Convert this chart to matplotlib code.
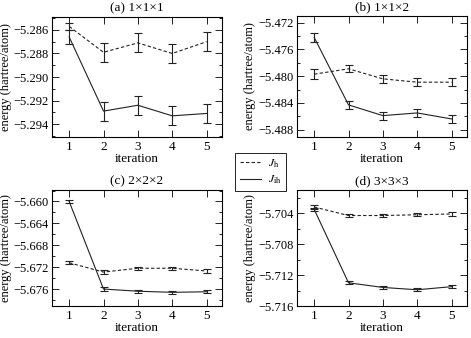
import matplotlib
matplotlib.use("Agg")
import matplotlib.pyplot as plt
from matplotlib.lines import Line2D
from matplotlib.ticker import MultipleLocator, FuncFormatter

plt.rcParams['font.family'] = ['Liberation Serif', 'DejaVu Serif']
plt.rcParams['mathtext.fontset'] = 'stix'
plt.rcParams['font.size'] = 9.5

# --- data
iteration = [1, 2, 3, 4, 5]
titles = ['(a) 1\u00d71\u00d71', '(b) 1\u00d71\u00d72', '(c) 2\u00d72\u00d72', '(d) 3\u00d73\u00d73']

jh_a = [-5.2857, -5.2879, -5.2871, -5.2880, -5.2870]
jh_a_err = [0.0003, 0.0008, 0.0008, 0.0008, 0.0008]
jih_a = [-5.2866, -5.2929, -5.2924, -5.2933, -5.2931]
jih_a_err = [0.0006, 0.0008, 0.0008, 0.0008, 0.0008]

jh_b = [-5.4797, -5.4789, -5.4804, -5.4809, -5.4809]
jh_b_err = [0.0007, 0.0005, 0.0006, 0.0006, 0.0006]
jih_b = [-5.4742, -5.4843, -5.4859, -5.4855, -5.4864]
jih_b_err = [0.0007, 0.0006, 0.0006, 0.0006, 0.0006]

jh_c = [-5.6712, -5.6729, -5.6722, -5.6722, -5.6727]
jh_c_err = [0.0003, 0.0003, 0.0003, 0.0003, 0.0003]
jih_c = [-5.6600, -5.6760, -5.6764, -5.6766, -5.6765]
jih_c_err = [0.0003, 0.0003, 0.0003, 0.0003, 0.0003]

jh_d = [-5.7032, -5.7043, -5.7043, -5.7042, -5.7041]
jh_d_err = [0.0002, 0.0002, 0.0002, 0.0002, 0.0002]
jih_d = [-5.7035, -5.7130, -5.7136, -5.7139, -5.7135]
jih_d_err = [0.0002, 0.0002, 0.0002, 0.0002, 0.0002]

ylims = [(-5.2951, -5.2849), (-5.4891, -5.4710), (-5.6791, -5.6579), (-5.7160, -5.7010)]
ymajor = [0.002, 0.004, 0.004, 0.004]

panels = [(jh_a, jh_a_err, jih_a, jih_a_err),
          (jh_b, jh_b_err, jih_b, jih_b_err),
          (jh_c, jh_c_err, jih_c, jih_c_err),
          (jh_d, jh_d_err, jih_d, jih_d_err)]

# --- layout in pixels (left, top, right, bottom)
W, H = 471, 338
boxes = [(52, 17, 222, 137), (297, 16, 467, 137),
         (52, 190, 222, 306), (297, 190, 467, 306)]
label_x = [12, 256, 12, 256]

fig = plt.figure(figsize=(W / 100, H / 100), dpi=100)
col = '#222222'
fmt = FuncFormatter(lambda v, p: ('%.3f' % v).replace('-', '\u2212'))

for i, (l, t, r, b) in enumerate(boxes):
    ax = fig.add_axes([l / W, 1 - b / H, (r - l) / W, (b - t) / H])
    jh, jh_err, jih, jih_err = panels[i]
    ax.errorbar(iteration, jh, yerr=jh_err, color=col, lw=0.8, ls='--',
                dashes=(3, 2), capsize=3, elinewidth=0.8, capthick=0.8)
    ax.errorbar(iteration, jih, yerr=jih_err, color=col, lw=0.8, ls='-',
                capsize=3, elinewidth=0.8, capthick=0.8)
    ax.set_xlim(0.5, 5.45)
    ax.set_ylim(*ylims[i])
    ax.set_xticks(iteration)
    ax.yaxis.set_major_locator(MultipleLocator(ymajor[i]))
    ax.yaxis.set_minor_locator(MultipleLocator(ymajor[i] / 2))
    ax.yaxis.set_major_formatter(fmt)
    ax.tick_params(direction='in', top=True, right=True, which='both')
    ax.tick_params(which='major', length=5, width=0.6, pad=3)
    ax.tick_params(axis='y', labelsize=9, pad=2.5)
    ax.tick_params(which='minor', length=2.5, width=0.6)
    for s in ax.spines.values():
        s.set_linewidth(0.8)
    ax.set_title(titles[i], fontsize=9.5, pad=4)
    ax.set_xlabel('iteration', labelpad=0)
    ax.set_ylabel('energy (hartree/atom)', fontsize=9)
    ax.yaxis.set_label_coords((label_x[i] - l) / (r - l), 0.5)

handles = [Line2D([], [], color=col, lw=0.8, ls='--', dashes=(3, 2)),
           Line2D([], [], color=col, lw=0.8, ls='-')]
leg = fig.legend(handles, [r'$J_\mathrm{h}$', r'$J_\mathrm{ih}$'],
                 loc='upper left', bbox_to_anchor=(229 / W, 1 - 147 / H),
                 bbox_transform=fig.transFigure, fancybox=False, framealpha=1,
                 edgecolor='black', handlelength=1.8, borderpad=0.4,
                 labelspacing=0.3, handletextpad=0.6, fontsize=8.5)
leg.get_frame().set_linewidth(0.6)

fig.savefig('out.png', dpi=100)
